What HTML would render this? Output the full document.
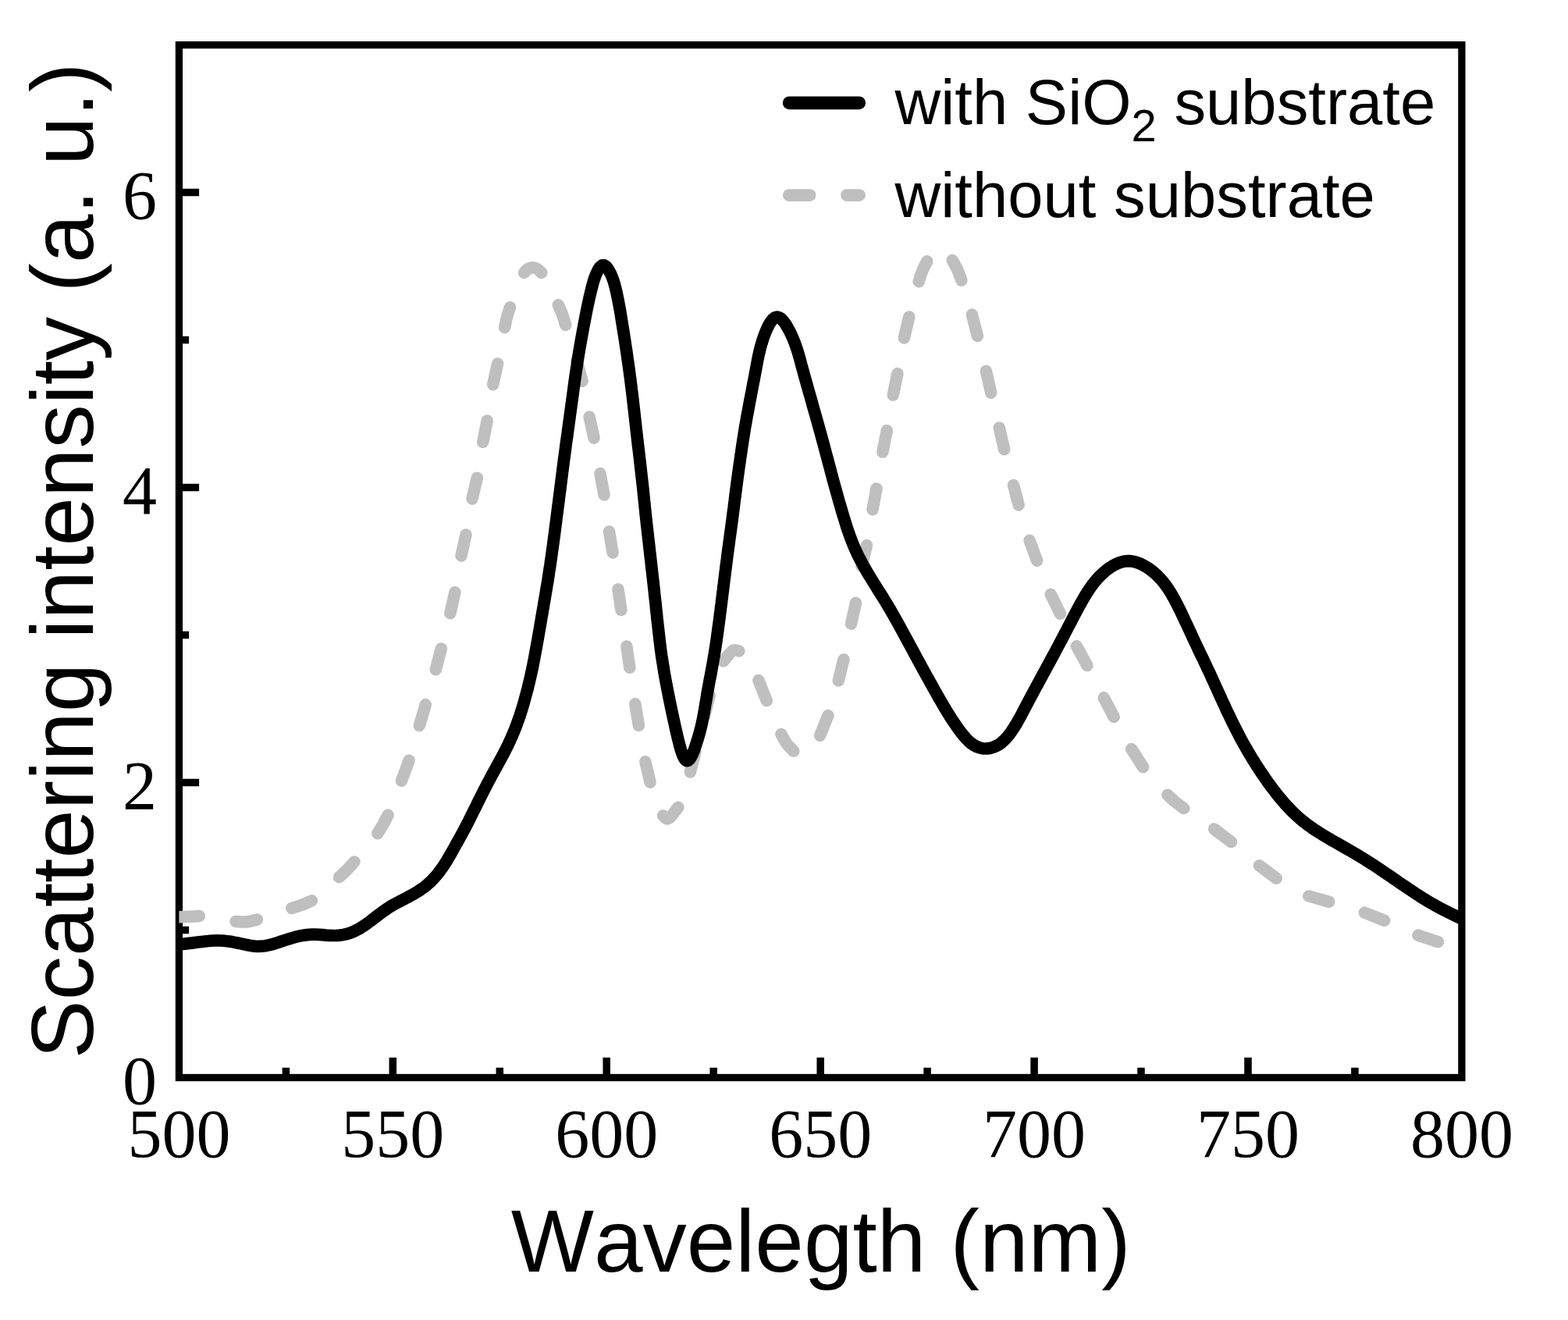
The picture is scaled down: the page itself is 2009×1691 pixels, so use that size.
<!DOCTYPE html>
<html lang="en"><head><meta charset="utf-8"><title>Scattering intensity vs wavelength</title>
<style>html,body{margin:0;padding:0;background:#fff}svg{display:block}.sans{font-family:"Liberation Sans",sans-serif;fill:#000;font-kerning:none}.tick{font-family:"Liberation Serif",serif;fill:#000;font-size:88px;font-kerning:none}</style></head><body>
<svg width="2009" height="1691" viewBox="0 0 2009 1691" role="img" aria-label="Scattering intensity versus wavelength, with and without SiO2 substrate">
<rect width="2009" height="1691" fill="#fff"/>
<defs><clipPath id="plot"><rect x="229.4" y="57.6" width="1643.5" height="1322.9"/></clipPath></defs>
<g id="axes">
<rect x="229.4" y="57.6" width="1643.5" height="1322.9" fill="none" stroke="#000" stroke-width="9.3"/>
<path d="M366.4 1380.5V1367.8M503.3 1380.5V1354.8M640.3 1380.5V1367.8M777.2 1380.5V1354.8M914.2 1380.5V1367.8M1051.2 1380.5V1354.8M1188.1 1380.5V1367.8M1325.1 1380.5V1354.8M1462.0 1380.5V1367.8M1599.0 1380.5V1354.8M1735.9 1380.5V1367.8M229.4 1191.5H242.1M229.4 1002.5H255.1M229.4 813.5H242.1M229.4 624.6H255.1M229.4 435.6H242.1M229.4 246.6H255.1" fill="none" stroke="#000" stroke-width="9.5"/>
</g>
<g id="series" clip-path="url(#plot)" fill="none" stroke-linejoin="round">
<path d="M229.3 1174.8C233.6 1174.6 238.0 1174.4 242.3 1174.2C246.6 1174.0 251.0 1173.8 255.3 1173.6M302.0 1180.5C306.5 1180.7 311.0 1181.4 315.5 1181.0C320.1 1180.6 324.7 1179.1 329.3 1178.1M373.7 1163.5C378.1 1162.1 382.5 1160.9 386.8 1159.3C391.1 1157.7 395.2 1155.6 399.4 1153.8M434.5 1123.7C437.9 1120.5 441.4 1117.5 444.7 1114.2C447.9 1110.9 450.9 1107.3 454.0 1103.9M483.8 1067.8C486.1 1063.9 488.6 1060.1 490.8 1056.2C493.0 1052.2 495.0 1048.1 497.1 1044.1M514.5 1000.2L524.0 974.3M537.4 929.5L545.3 902.6M558.3 857.8L565.3 831.0M576.9 785.6L582.9 758.7M591.0 712.0L597.0 685.0M605.0 639.0L611.3 612.2M618.7 566.4L624.1 538.9M631.6 492.7L637.6 465.9M646.6 419.5C647.6 415.1 648.3 410.6 649.5 406.3C650.6 402.0 652.2 397.8 653.5 393.6M671.5 349.4C673.3 347.7 674.8 345.5 676.8 344.4C678.6 343.4 680.7 342.8 682.6 342.8C684.5 342.8 686.4 343.4 688.2 344.4C690.2 345.5 691.9 347.7 693.8 349.4M715.3 390.6C717.1 394.8 719.0 399.0 720.6 403.3C722.2 407.6 723.3 412.0 724.7 416.4M739.0 462.0L746.1 488.2M755.1 534.0L761.1 561.2M769.0 606.6L774.0 634.0M780.5 681.0L785.0 708.0M791.9 754.8L795.9 781.6M802.9 828.0L806.8 855.3M813.8 901.7L818.4 929.4M826.8 975.8L833.1 1002.2M849.6 1044.9C851.6 1046.2 853.3 1049.2 855.5 1048.9C859.2 1048.5 864.4 1039.2 868.9 1034.3M884.4 989.0L891.0 962.8M902.7 916.8L909.3 890.7M926.9 847.0C931.2 842.3 935.8 834.4 939.8 833.0C942.2 832.1 944.5 833.7 946.8 834.0M971.9 871.5L982.3 897.6M1000.9 940.4C1003.1 944.3 1005.0 948.6 1007.6 952.2C1010.3 955.9 1013.7 958.9 1016.8 962.3M1050.6 942.3L1061.0 916.6M1074.3 872.0L1080.9 844.9M1090.5 799.2L1096.5 772.3M1104.0 725.0L1110.5 698.6M1118.0 652.9L1123.0 626.0M1131.0 579.1L1136.3 551.5M1144.3 506.1L1149.9 478.6M1158.4 433.0L1164.8 405.9M1177.2 360.7C1178.7 356.3 1179.8 351.7 1181.6 347.4C1183.3 343.1 1185.7 339.0 1187.7 334.8M1220.2 333.3C1222.4 337.5 1225.0 341.5 1226.9 345.8C1228.9 350.1 1230.2 354.7 1231.9 359.1M1245.4 403.1L1252.4 430.4M1263.4 475.2L1269.7 503.1M1280.3 547.9L1286.7 575.8M1298.5 621.5L1305.2 646.9M1319.1 692.3L1328.6 718.2M1346.2 761.4L1358.5 786.3M1379.4 827.7L1393.0 852.6M1414.3 893.8L1427.2 918.5M1449.7 959.5L1464.6 982.8M1495.9 1018.2C1499.3 1021.3 1502.5 1024.5 1506.0 1027.4C1509.5 1030.3 1513.2 1032.9 1516.8 1035.6M1555.6 1062.0L1577.5 1078.6M1613.4 1108.8L1635.3 1125.2M1676.8 1147.9L1702.7 1155.3M1748.4 1169.1L1773.7 1179.2M1817.0 1198.1L1842.5 1206.6" stroke="#bfbfbf" stroke-width="15.5" stroke-linecap="round"/>
<path d="M229.3 1209.9 L233.7 1209.5 L238.2 1208.9 L242.6 1208.4 L247.0 1207.9 L251.4 1207.3 L255.9 1206.7 L260.3 1206.2 L264.7 1205.7 L269.2 1205.3 L273.6 1205.0 L278.0 1204.9 L282.4 1205.0 L286.9 1205.2 L291.3 1205.7 L295.7 1206.3 L300.1 1207.1 L304.5 1208.0 L308.9 1208.9 L313.3 1209.9 L317.7 1210.8 L322.1 1211.6 L326.4 1212.1 L330.8 1212.3 L335.1 1212.2 L339.5 1211.7 L343.8 1210.9 L348.1 1209.8 L352.4 1208.6 L356.7 1207.2 L361.0 1205.8 L365.3 1204.4 L369.6 1203.0 L373.8 1201.7 L378.1 1200.5 L382.4 1199.4 L386.8 1198.5 L391.2 1197.9 L395.6 1197.4 L400.0 1197.2 L404.4 1197.2 L408.9 1197.4 L413.3 1197.7 L417.8 1198.1 L422.3 1198.3 L426.7 1198.5 L431.2 1198.4 L435.6 1198.1 L440.0 1197.4 L444.3 1196.5 L448.5 1195.2 L452.6 1193.6 L456.6 1191.7 L460.5 1189.6 L464.3 1187.2 L468.0 1184.7 L471.7 1182.1 L475.3 1179.5 L478.8 1176.8 L482.4 1174.0 L485.9 1171.3 L489.5 1168.7 L493.1 1166.1 L496.8 1163.5 L500.5 1161.1 L504.3 1158.9 L508.2 1156.8 L512.2 1154.7 L516.1 1152.7 L520.1 1150.6 L524.0 1148.5 L528.0 1146.4 L531.8 1144.2 L535.6 1141.9 L539.4 1139.4 L543.0 1136.9 L546.5 1134.1 L549.8 1131.2 L553.0 1128.2 L556.1 1124.9 L559.0 1121.6 L561.8 1118.1 L564.5 1114.6 L567.1 1110.9 L569.6 1107.2 L572.0 1103.5 L574.3 1099.6 L576.5 1095.8 L578.7 1091.9 L580.9 1088.0 L583.0 1084.1 L585.2 1080.2 L587.4 1076.3 L589.5 1072.5 L591.7 1068.6 L593.8 1064.6 L595.9 1060.7 L597.9 1056.8 L600.0 1052.8 L602.0 1048.8 L604.0 1044.8 L605.9 1040.8 L607.9 1036.9 L609.9 1032.9 L611.8 1028.9 L613.8 1024.9 L615.8 1020.9 L617.8 1016.9 L619.8 1012.9 L621.9 1009.0 L623.9 1005.0 L626.0 1001.1 L628.1 997.2 L630.2 993.2 L632.3 989.3 L634.5 985.4 L636.6 981.5 L638.7 977.6 L640.9 973.7 L643.0 969.8 L645.1 965.8 L647.1 961.9 L649.1 957.9 L651.1 953.9 L653.0 949.9 L654.8 945.8 L656.6 941.8 L658.3 937.7 L660.0 933.5 L661.6 929.4 L663.1 925.2 L664.6 921.0 L666.1 916.8 L667.4 912.6 L668.8 908.4 L670.1 904.1 L671.3 899.8 L672.5 895.5 L673.7 891.2 L674.8 886.9 L676.0 882.6 L677.0 878.3 L678.1 874.0 L679.1 869.6 L680.1 865.3 L681.0 860.9 L682.0 856.6 L682.9 852.2 L683.7 847.8 L684.6 843.5 L685.4 839.1 L686.2 834.7 L687.0 830.3 L687.8 825.9 L688.6 821.6 L689.4 817.2 L690.1 812.8 L690.9 808.4 L691.7 804.0 L692.4 799.6 L693.2 795.2 L693.9 790.8 L694.7 786.5 L695.4 782.1 L696.2 777.7 L696.9 773.3 L697.7 768.9 L698.4 764.5 L699.2 760.1 L699.9 755.7 L700.6 751.3 L701.4 746.9 L702.1 742.5 L702.8 738.1 L703.4 733.7 L704.1 729.3 L704.8 724.9 L705.4 720.5 L706.1 716.1 L706.7 711.7 L707.3 707.3 L707.9 702.9 L708.5 698.5 L709.1 694.1 L709.7 689.6 L710.3 685.2 L710.9 680.8 L711.4 676.4 L712.0 672.0 L712.6 667.6 L713.1 663.1 L713.7 658.7 L714.3 654.3 L714.8 649.9 L715.4 645.5 L716.0 641.1 L716.5 636.6 L717.1 632.2 L717.7 627.8 L718.2 623.4 L718.8 619.0 L719.3 614.5 L719.9 610.1 L720.4 605.7 L721.0 601.3 L721.6 596.9 L722.1 592.5 L722.7 588.0 L723.3 583.6 L723.9 579.2 L724.5 574.8 L725.0 570.4 L725.6 566.0 L726.3 561.6 L726.9 557.2 L727.5 552.7 L728.1 548.3 L728.7 543.9 L729.3 539.5 L729.9 535.1 L730.5 530.7 L731.1 526.3 L731.7 521.9 L732.3 517.4 L732.9 513.0 L733.5 508.6 L734.1 504.2 L734.7 499.8 L735.3 495.4 L735.9 490.9 L736.5 486.5 L737.1 482.1 L737.8 477.7 L738.4 473.3 L739.1 468.9 L739.7 464.5 L740.4 460.1 L741.1 455.6 L741.9 451.2 L742.6 446.8 L743.4 442.4 L744.1 438.0 L744.9 433.7 L745.7 429.3 L746.5 424.9 L747.3 420.6 L748.1 416.2 L749.0 411.9 L749.8 407.6 L750.6 403.2 L751.5 398.9 L752.3 394.6 L753.2 390.3 L754.2 386.0 L755.1 381.6 L756.1 377.2 L757.2 372.8 L758.3 368.3 L759.5 363.8 L760.8 359.3 L762.4 354.6 L764.3 349.9 L766.5 345.5 L768.9 342.0 L771.5 339.9 L774.2 339.8 L776.9 341.7 L779.4 345.1 L781.8 349.3 L783.9 354.0 L785.7 358.7 L787.1 363.3 L788.3 367.8 L789.4 372.2 L790.4 376.7 L791.3 381.1 L792.2 385.5 L793.0 389.8 L793.8 394.2 L794.6 398.5 L795.3 402.8 L796.0 407.2 L796.7 411.5 L797.4 415.9 L798.1 420.2 L798.8 424.6 L799.5 429.0 L800.2 433.4 L800.9 437.8 L801.5 442.2 L802.2 446.6 L802.9 451.0 L803.5 455.5 L804.1 459.9 L804.8 464.3 L805.4 468.7 L806.0 473.1 L806.6 477.6 L807.2 482.0 L807.8 486.4 L808.3 490.8 L808.9 495.2 L809.4 499.7 L810.0 504.1 L810.5 508.5 L811.0 512.9 L811.5 517.4 L812.0 521.8 L812.5 526.2 L813.0 530.6 L813.5 535.1 L814.0 539.5 L814.5 543.9 L815.0 548.3 L815.5 552.8 L816.0 557.2 L816.5 561.6 L817.0 566.0 L817.5 570.5 L818.1 574.9 L818.6 579.3 L819.1 583.7 L819.6 588.2 L820.1 592.6 L820.6 597.0 L821.1 601.4 L821.6 605.9 L822.1 610.3 L822.6 614.7 L823.1 619.1 L823.6 623.6 L824.1 628.0 L824.5 632.4 L825.0 636.8 L825.4 641.3 L825.9 645.7 L826.3 650.1 L826.8 654.6 L827.2 659.0 L827.7 663.4 L828.2 667.8 L828.7 672.3 L829.2 676.7 L829.7 681.1 L830.2 685.5 L830.7 690.0 L831.2 694.4 L831.7 698.8 L832.2 703.2 L832.7 707.7 L833.2 712.1 L833.7 716.5 L834.2 720.9 L834.7 725.4 L835.2 729.8 L835.7 734.2 L836.2 738.6 L836.7 743.1 L837.2 747.5 L837.7 751.9 L838.2 756.4 L838.6 760.8 L839.1 765.2 L839.6 769.6 L840.1 774.1 L840.5 778.5 L841.0 782.9 L841.5 787.4 L841.9 791.8 L842.4 796.2 L842.9 800.6 L843.4 805.1 L843.9 809.5 L844.4 813.9 L844.9 818.3 L845.4 822.8 L846.0 827.2 L846.5 831.6 L847.1 836.0 L847.7 840.4 L848.4 844.8 L849.1 849.2 L849.8 853.6 L850.5 858.0 L851.2 862.4 L852.0 866.8 L852.8 871.2 L853.6 875.6 L854.5 879.9 L855.3 884.3 L856.2 888.7 L857.0 893.0 L857.9 897.4 L858.8 901.7 L859.7 906.1 L860.6 910.4 L861.5 914.7 L862.5 919.1 L863.4 923.4 L864.4 927.7 L865.3 932.1 L866.3 936.4 L867.3 940.9 L868.4 945.6 L869.7 950.5 L871.0 955.8 L872.5 961.0 L874.2 965.8 L875.9 970.0 L877.7 973.0 L879.6 974.6 L881.6 974.4 L883.6 972.5 L885.7 969.2 L887.7 965.0 L889.6 960.1 L891.4 954.9 L893.1 949.8 L894.6 944.9 L895.9 940.3 L897.1 935.9 L898.2 931.6 L899.2 927.3 L900.1 923.0 L901.0 918.7 L901.8 914.3 L902.6 909.9 L903.3 905.6 L904.0 901.2 L904.8 896.8 L905.5 892.4 L906.2 888.0 L907.0 883.6 L907.8 879.3 L908.6 874.9 L909.4 870.5 L910.3 866.1 L911.1 861.8 L911.9 857.4 L912.7 853.0 L913.5 848.6 L914.2 844.2 L915.0 839.8 L915.7 835.4 L916.4 831.0 L917.1 826.6 L917.8 822.2 L918.4 817.8 L919.0 813.4 L919.6 809.0 L920.2 804.6 L920.8 800.2 L921.4 795.8 L922.0 791.4 L922.5 786.9 L923.1 782.5 L923.6 778.1 L924.2 773.7 L924.7 769.3 L925.3 764.8 L925.8 760.4 L926.4 756.0 L926.9 751.6 L927.5 747.2 L928.0 742.7 L928.6 738.3 L929.1 733.9 L929.7 729.5 L930.2 725.1 L930.8 720.6 L931.4 716.2 L931.9 711.8 L932.5 707.4 L933.1 703.0 L933.7 698.6 L934.3 694.1 L934.9 689.7 L935.5 685.3 L936.1 680.9 L936.7 676.5 L937.3 672.1 L937.9 667.7 L938.5 663.3 L939.0 658.8 L939.6 654.4 L940.2 650.0 L940.7 645.6 L941.3 641.2 L941.8 636.8 L942.4 632.3 L943.0 627.9 L943.5 623.5 L944.1 619.1 L944.7 614.7 L945.3 610.3 L945.9 605.9 L946.5 601.4 L947.1 597.0 L947.8 592.6 L948.4 588.2 L949.0 583.8 L949.7 579.4 L950.3 575.0 L951.0 570.6 L951.6 566.2 L952.3 561.8 L953.0 557.4 L953.7 553.0 L954.4 548.6 L955.2 544.2 L956.0 539.8 L956.7 535.4 L957.5 531.0 L958.4 526.6 L959.2 522.2 L960.0 517.8 L960.8 513.4 L961.7 509.0 L962.5 504.6 L963.4 500.2 L964.2 495.8 L965.0 491.4 L965.9 487.1 L966.7 482.7 L967.5 478.4 L968.3 474.1 L969.1 469.9 L969.9 465.6 L970.7 461.4 L971.5 457.2 L972.5 452.9 L973.5 448.6 L974.6 444.2 L975.9 439.8 L977.3 435.2 L978.9 430.4 L980.8 425.6 L982.9 420.7 L985.1 416.2 L987.6 412.1 L990.1 409.0 L992.8 406.8 L995.6 406.1 L998.4 406.8 L1001.3 408.8 L1004.1 411.9 L1006.9 415.7 L1009.5 420.2 L1012.0 424.9 L1014.3 429.7 L1016.3 434.3 L1018.1 438.9 L1019.7 443.3 L1021.2 447.6 L1022.5 451.8 L1023.7 456.0 L1024.9 460.1 L1026.0 464.2 L1027.1 468.4 L1028.2 472.5 L1029.4 476.7 L1030.5 480.9 L1031.7 485.2 L1032.9 489.4 L1034.1 493.7 L1035.3 498.0 L1036.5 502.3 L1037.8 506.6 L1039.0 510.9 L1040.2 515.2 L1041.4 519.6 L1042.6 523.9 L1043.9 528.2 L1045.1 532.5 L1046.3 536.8 L1047.5 541.1 L1048.7 545.4 L1049.9 549.7 L1051.1 554.0 L1052.3 558.3 L1053.4 562.6 L1054.6 566.9 L1055.8 571.2 L1056.9 575.5 L1058.1 579.8 L1059.2 584.1 L1060.4 588.4 L1061.5 592.7 L1062.7 597.0 L1063.8 601.3 L1064.9 605.6 L1066.1 609.9 L1067.2 614.2 L1068.4 618.5 L1069.6 622.8 L1070.8 627.1 L1072.0 631.4 L1073.2 635.7 L1074.4 640.0 L1075.6 644.3 L1076.9 648.6 L1078.1 652.9 L1079.4 657.1 L1080.7 661.4 L1082.0 665.7 L1083.3 669.9 L1084.6 674.2 L1086.0 678.4 L1087.5 682.6 L1089.0 686.8 L1090.5 690.9 L1092.1 695.1 L1093.8 699.2 L1095.6 703.3 L1097.4 707.3 L1099.3 711.3 L1101.3 715.3 L1103.4 719.2 L1105.5 723.1 L1107.6 727.0 L1109.9 730.9 L1112.1 734.7 L1114.4 738.5 L1116.7 742.3 L1119.1 746.1 L1121.5 749.9 L1123.8 753.7 L1126.2 757.4 L1128.6 761.2 L1131.0 765.0 L1133.3 768.8 L1135.6 772.6 L1137.9 776.4 L1140.2 780.2 L1142.4 784.1 L1144.6 787.9 L1146.8 791.8 L1149.0 795.7 L1151.2 799.6 L1153.3 803.5 L1155.4 807.4 L1157.6 811.3 L1159.7 815.2 L1161.8 819.1 L1163.9 823.0 L1166.1 827.0 L1168.2 830.9 L1170.3 834.8 L1172.4 838.7 L1174.5 842.6 L1176.6 846.5 L1178.8 850.4 L1180.9 854.4 L1183.0 858.3 L1185.2 862.2 L1187.3 866.1 L1189.5 869.9 L1191.6 873.8 L1193.8 877.7 L1196.0 881.6 L1198.2 885.5 L1200.4 889.4 L1202.6 893.3 L1204.8 897.1 L1207.1 901.0 L1209.3 904.9 L1211.6 908.7 L1214.0 912.6 L1216.3 916.4 L1218.7 920.3 L1221.2 924.1 L1223.8 927.8 L1226.4 931.6 L1229.1 935.3 L1231.8 938.9 L1234.7 942.4 L1237.7 945.9 L1240.8 949.1 L1244.1 952.0 L1247.6 954.5 L1251.3 956.5 L1255.3 957.9 L1259.4 958.8 L1263.6 959.0 L1267.8 958.6 L1271.9 957.5 L1275.9 955.9 L1279.7 953.8 L1283.2 951.3 L1286.5 948.4 L1289.6 945.2 L1292.5 941.7 L1295.2 938.1 L1297.8 934.3 L1300.2 930.5 L1302.6 926.6 L1304.8 922.7 L1307.0 918.7 L1309.2 914.7 L1311.3 910.7 L1313.4 906.7 L1315.5 902.7 L1317.6 898.7 L1319.7 894.7 L1321.8 890.8 L1323.9 886.8 L1326.0 882.9 L1328.1 879.0 L1330.3 875.1 L1332.4 871.1 L1334.5 867.2 L1336.6 863.3 L1338.8 859.4 L1340.9 855.5 L1343.0 851.6 L1345.1 847.7 L1347.2 843.8 L1349.4 839.8 L1351.5 835.9 L1353.5 832.0 L1355.6 828.1 L1357.7 824.1 L1359.8 820.2 L1361.9 816.3 L1363.9 812.3 L1366.0 808.4 L1368.0 804.4 L1370.1 800.5 L1372.2 796.5 L1374.2 792.5 L1376.3 788.6 L1378.4 784.6 L1380.5 780.7 L1382.6 776.7 L1384.8 772.8 L1387.0 768.9 L1389.3 765.0 L1391.6 761.1 L1394.0 757.3 L1396.5 753.6 L1399.1 749.9 L1401.9 746.3 L1404.8 742.8 L1407.8 739.4 L1411.0 736.2 L1414.3 733.2 L1417.8 730.3 L1421.4 727.6 L1425.2 725.2 L1429.1 723.0 L1433.1 721.3 L1437.2 719.9 L1441.3 719.0 L1445.5 718.7 L1449.7 718.9 L1453.8 719.7 L1458.0 721.0 L1462.0 722.6 L1466.0 724.7 L1469.9 727.0 L1473.6 729.5 L1477.1 732.2 L1480.6 735.2 L1483.8 738.3 L1486.9 741.6 L1489.9 745.0 L1492.6 748.5 L1495.3 752.2 L1497.8 755.9 L1500.2 759.7 L1502.4 763.6 L1504.6 767.5 L1506.7 771.5 L1508.8 775.5 L1510.8 779.5 L1512.8 783.5 L1514.7 787.6 L1516.6 791.6 L1518.5 795.7 L1520.4 799.7 L1522.3 803.8 L1524.2 807.8 L1526.1 811.9 L1527.9 815.9 L1529.8 820.0 L1531.7 824.0 L1533.6 828.0 L1535.5 832.1 L1537.4 836.1 L1539.3 840.1 L1541.3 844.1 L1543.2 848.1 L1545.1 852.1 L1547.0 856.2 L1548.9 860.2 L1550.8 864.2 L1552.6 868.3 L1554.5 872.3 L1556.3 876.4 L1558.1 880.4 L1560.0 884.5 L1561.8 888.5 L1563.7 892.6 L1565.5 896.6 L1567.4 900.7 L1569.3 904.7 L1571.1 908.8 L1573.0 912.8 L1575.0 916.8 L1576.9 920.8 L1578.8 924.8 L1580.8 928.8 L1582.8 932.8 L1584.8 936.8 L1586.9 940.7 L1588.9 944.7 L1591.0 948.6 L1593.2 952.5 L1595.4 956.4 L1597.6 960.2 L1599.8 964.1 L1602.1 967.9 L1604.4 971.7 L1606.8 975.5 L1609.1 979.3 L1611.6 983.0 L1614.0 986.8 L1616.5 990.5 L1619.0 994.1 L1621.5 997.8 L1624.1 1001.5 L1626.7 1005.1 L1629.4 1008.7 L1632.1 1012.2 L1634.8 1015.8 L1637.6 1019.3 L1640.4 1022.7 L1643.2 1026.1 L1646.1 1029.5 L1649.1 1032.8 L1652.2 1036.0 L1655.3 1039.2 L1658.4 1042.3 L1661.7 1045.3 L1665.0 1048.3 L1668.4 1051.1 L1671.9 1053.9 L1675.4 1056.6 L1679.0 1059.2 L1682.6 1061.7 L1686.3 1064.2 L1690.1 1066.6 L1693.8 1068.9 L1697.6 1071.2 L1701.5 1073.5 L1705.3 1075.8 L1709.2 1078.0 L1713.1 1080.2 L1716.9 1082.4 L1720.8 1084.6 L1724.7 1086.8 L1728.6 1089.1 L1732.4 1091.3 L1736.3 1093.5 L1740.1 1095.8 L1743.9 1098.1 L1747.7 1100.4 L1751.5 1102.8 L1755.2 1105.2 L1759.0 1107.6 L1762.7 1110.0 L1766.4 1112.5 L1770.1 1115.0 L1773.8 1117.5 L1777.5 1120.0 L1781.2 1122.5 L1784.8 1125.0 L1788.5 1127.5 L1792.2 1130.1 L1795.8 1132.6 L1799.5 1135.1 L1803.2 1137.6 L1806.9 1140.1 L1810.6 1142.6 L1814.3 1145.0 L1818.1 1147.4 L1821.8 1149.8 L1825.6 1152.2 L1829.4 1154.5 L1833.2 1156.7 L1837.1 1158.9 L1841.0 1161.1 L1844.9 1163.2 L1848.8 1165.3 L1852.8 1167.3 L1856.8 1169.3 L1860.8 1171.3 L1864.8 1173.2 L1868.8 1175.1 L1872.8 1177.0" stroke="#000" stroke-width="15.7" stroke-linecap="round"/>
</g>
<g id="tick-labels">
<text class="tick" x="229.4" y="1481.5" text-anchor="middle">500</text>
<text class="tick" x="503.3" y="1481.5" text-anchor="middle">550</text>
<text class="tick" x="777.2" y="1481.5" text-anchor="middle">600</text>
<text class="tick" x="1051.2" y="1481.5" text-anchor="middle">650</text>
<text class="tick" x="1325.1" y="1481.5" text-anchor="middle">700</text>
<text class="tick" x="1599.0" y="1481.5" text-anchor="middle">750</text>
<text class="tick" x="1872.9" y="1481.5" text-anchor="middle">800</text>
<text class="tick" x="201" y="1414.0" text-anchor="end">0</text>
<text class="tick" x="201" y="1036.0" text-anchor="end">2</text>
<text class="tick" x="201" y="658.1" text-anchor="end">4</text>
<text class="tick" x="201" y="280.1" text-anchor="end">6</text>
</g>
<g id="axis-titles">
<text class="sans" x="1051.8" y="1628.6" font-size="112.5" text-anchor="middle">Wavelegth (nm)</text>
<text class="sans" transform="translate(118.8 718.4) rotate(-90)" font-size="112.5" text-anchor="middle">Scattering intensity (a. u.)</text>
</g>
<g id="legend">
<path d="M1011.2 131.8H1100.7" stroke="#000" stroke-width="16.8" stroke-linecap="round" fill="none"/>
<path d="M1010.7 250.1H1037.7M1084.9 250.1H1101.2" stroke="#bfbfbf" stroke-width="15.6" stroke-linecap="round" fill="none"/>
<text class="sans" x="1146.5" y="159.3" font-size="81.4">with SiO<tspan dy="22" font-size="58">2</tspan><tspan dy="-22"> substrate</tspan></text>
<text class="sans" x="1146.5" y="277.9" font-size="81.4">without substrate</text>
</g>
</svg></body></html>
